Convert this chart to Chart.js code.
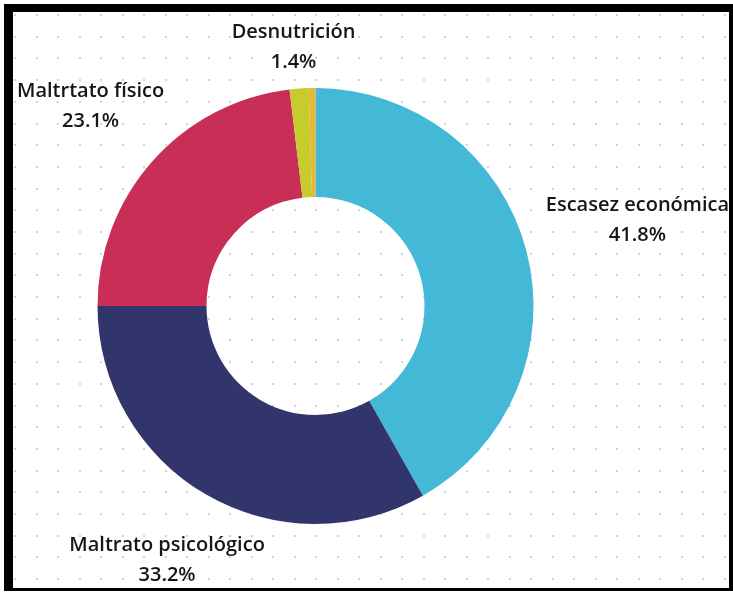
<!DOCTYPE html>
<html>
<head>
<meta charset="utf-8">
<script src="https://cdn.jsdelivr.net/npm/chart.js@4"></script>
<style>
	html, body { margin: 0; padding: 0; background: #fff; }
	#frame {
		position: absolute; left: 4px; top: 4px;
		width: 716px; height: 576px;
		border-style: solid; border-color: #000;
		border-width: 8px 4px 3px 9px;
	}
	#chartCausas { display: block; }
</style>
</head>
<body>
<div id="frame"><canvas id="chartCausas" width="716" height="576"></canvas></div>
<script>
var causas_labels = ["Escasez económica", "Maltrato psicológico", "Maltrtato físico", "Desnutrición", "Otros"];
var causas_values = [41.8, 33.2, 23.1, 1.4, 0.5];
var causas_colors = ["#43B8D7", "#32356B", "#C92E56", "#C6CC2B", "#E6B934"];

// puntos del fondo
var dotGrid = {
	id: 'dotGrid',
	beforeDraw: function(chart) {
		var ctx = chart.ctx;
		ctx.save();
		ctx.fillStyle = "#cfd3dc";
		for (var y = 2; y < chart.height; y += 21.7) {
			for (var x = 1; x < chart.width; x += 21.5) {
				ctx.fillRect(Math.round(x), Math.round(y), 2, 2);
			}
		}
		ctx.restore();
	}
};

// etiquetas fuera del anillo
var outerLabels = {
	id: 'outerLabels',
	afterDatasetsDraw: function(chart) {
		var ctx = chart.ctx;
		var meta = chart.getDatasetMeta(0);
		var gap = 47, lineH = 30;
		ctx.save();
		ctx.font = "600 20px 'Open Sans'";
		ctx.fillStyle = "#161616";
		ctx.textAlign = "center";
		ctx.textBaseline = "middle";
		meta.data.forEach(function(arc, i) {
			var v = causas_values[i];
			if (v < 1) return;
			var name = causas_labels[i];
			var pct = v.toFixed(1) + "%";
			var a = (arc.startAngle + arc.endAngle) / 2;
			var vx = Math.cos(a), vy = Math.sin(a);
			var hw = Math.max(ctx.measureText(name).width, ctx.measureText(pct).width) / 2;
			var hh = 26;
			var d = 1 / Math.sqrt(Math.pow(vx / hw, 2) + Math.pow(vy / hh, 2));
			var r = arc.outerRadius + gap + d;
			var cx = arc.x + vx * r;
			var cy = arc.y + vy * r;
			cx = Math.min(Math.max(cx, hw + 4), chart.width - hw);
			cy = Math.min(Math.max(cy, hh + 9), chart.height - hh + 8);
			ctx.fillText(name, cx, cy - lineH / 2);
			ctx.fillText(pct, cx, cy + lineH / 2);
		});
		ctx.restore();
	}
};

function Init() {
	new Chart(document.getElementById("chartCausas").getContext("2d"), {
		type: 'doughnut',
		data: {
			labels: causas_labels,
			datasets: [{
				data: causas_values,
				backgroundColor: causas_colors,
				borderWidth: 0
			}]
		},
		plugins: [dotGrid, outerLabels],
		options: {
			responsive: false,
			animation: false,
			cutout: '50%',
			layout: { padding: { left: 84.5, right: 195.5, top: 75, bottom: 63 } },
			plugins: {
				legend: { display: false },
				tooltip: { enabled: false }
			}
		}
	});
}

Init();
</script>
</body>
</html>
